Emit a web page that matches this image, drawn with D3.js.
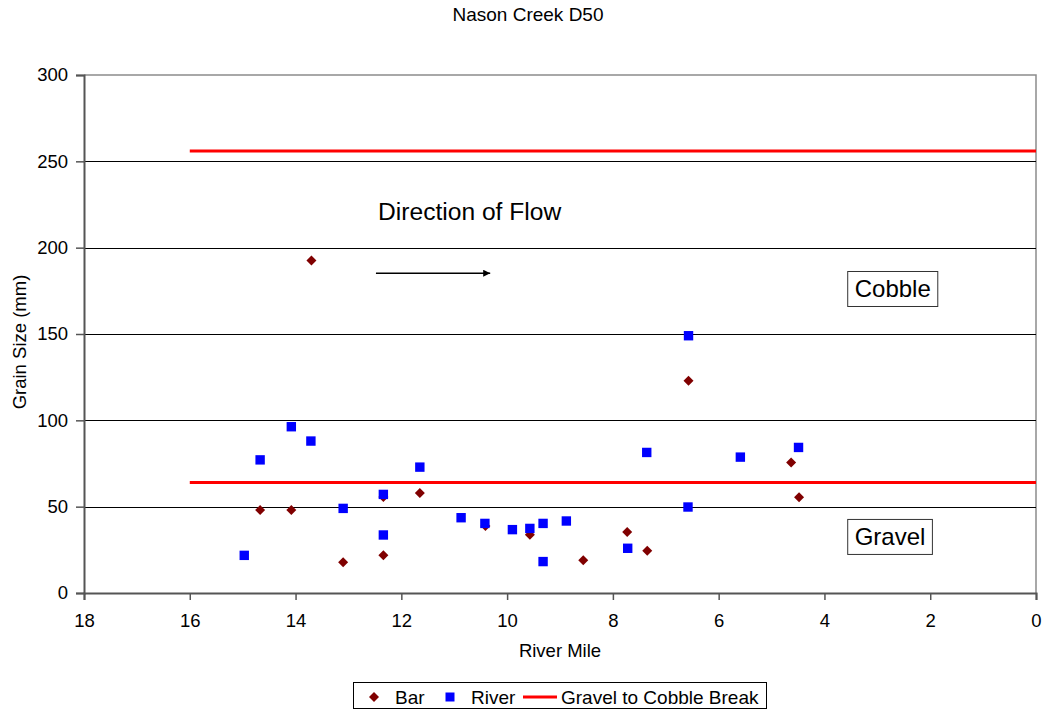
<!DOCTYPE html>
<html>
<head>
<meta charset="utf-8">
<script src="https://cdn.jsdelivr.net/npm/d3@7"></script>
<style>
  html, body { margin: 0; padding: 0; background: #fff; }
  svg { display: block; font-family: "Liberation Sans", Arial, sans-serif; }
</style>
</head>
<body>
<svg id="chart" width="1044" height="711"></svg>
<script>
// Nason Creek D50 grain size by river mile
const barMiles   = [14.67, 14.08, 13.70, 13.10, 12.34, 12.34, 11.65, 10.41, 9.57, 8.56, 7.73, 7.35, 6.57, 4.63, 4.48];
const barValues  = [48, 48, 192.5, 17.8, 21.8, 55.6, 57.9, 38.8, 33.8, 18.9, 35.3, 24.5, 122.9, 75.6, 55.4];

const riverMiles  = [14.97, 14.67, 14.08, 13.71, 13.10, 12.34, 12.34, 11.65, 10.87, 10.42, 9.90, 9.57, 9.32, 9.32, 8.88, 7.72, 7.36, 6.57, 6.58, 5.59, 4.49];
const riverValues = [21.8, 77.1, 96.3, 88.0, 49.0, 57.1, 33.6, 72.9, 43.6, 40.3, 36.7, 37.4, 18.2, 40.3, 41.7, 25.9, 81.4, 149.0, 49.8, 78.7, 84.3];

// gravel/cobble (64 mm) and cobble/boulder (256 mm) breaks
const breakValues = [256, 64];
const breakMiles  = [16, 0];

const xTicks = [18, 16, 14, 12, 10, 8, 6, 4, 2, 0];
const yTicks = [0, 50, 100, 150, 200, 250, 300];
const legendLabels = ["Bar", "River", "Gravel to Cobble Break"];

const svg = d3.select("#chart");
const plot = { left: 84, right: 1036, top: 75, bottom: 593 };

const x = d3.scaleLinear().domain([18, 0]).range([plot.left, plot.right]);
const y = d3.scaleLinear().domain([0, 300]).range([plot.bottom, plot.top]);

// plot frame (top and right) in gray
svg.append("path")
  .attr("d", `M${plot.left},${plot.top}H${plot.right}V${plot.bottom}`)
  .attr("fill", "none").attr("stroke", "#8c8c8c").attr("stroke-width", 1.5);

// horizontal gridlines
svg.append("g").selectAll("line")
  .data(yTicks.filter(v => v > 0 && v < 300))
  .join("line")
  .attr("x1", plot.left).attr("x2", plot.right)
  .attr("y1", d => Math.round(y(d)) + 0.5).attr("y2", d => Math.round(y(d)) + 0.5)
  .attr("stroke", "#000").attr("stroke-width", 1);

// axes
const xAxis = svg.append("g")
  .attr("transform", `translate(0,${plot.bottom})`)
  .call(d3.axisBottom(x).tickValues(xTicks).tickSize(7).tickPadding(14).tickFormat(d3.format("d")));
const yAxis = svg.append("g")
  .attr("transform", `translate(${plot.left},0)`)
  .call(d3.axisLeft(y).tickValues(yTicks).tickSize(8).tickPadding(8).tickFormat(d3.format("d")));

[xAxis, yAxis].forEach(g => {
  g.select(".domain").attr("stroke", "#555").attr("stroke-width", 2);
  g.selectAll(".tick line").attr("stroke", "#555").attr("stroke-width", 1.5);
  g.selectAll(".tick text").attr("fill", "#000").style("font-size", "18.5px")
    .style("font-family", "'Liberation Sans', Arial, sans-serif");
});

// break lines
svg.append("g").selectAll("line")
  .data(breakValues)
  .join("line")
  .attr("x1", x(breakMiles[0])).attr("x2", x(breakMiles[1]))
  .attr("y1", d => y(d)).attr("y2", d => y(d))
  .attr("stroke", "#ff0000").attr("stroke-width", 3);

// Bar samples: dark red diamonds
const diamond = "M0,-5L5,0L0,5L-5,0Z";
svg.append("g").selectAll("path")
  .data(barMiles.map((m, i) => [m, barValues[i]]))
  .join("path")
  .attr("d", diamond)
  .attr("transform", d => `translate(${x(d[0])},${y(d[1])})`)
  .attr("fill", "#800000");

// River samples: blue squares
svg.append("g").selectAll("rect")
  .data(riverMiles.map((m, i) => [m, riverValues[i]]))
  .join("rect")
  .attr("x", d => x(d[0]) - 4.7).attr("y", d => y(d[1]) - 4.7)
  .attr("width", 9.4).attr("height", 9.4)
  .attr("fill", "#0000ff");

// title and axis titles
svg.append("text").attr("x", 528).attr("y", 21).attr("text-anchor", "middle")
  .style("font-size", "19px").text("Nason Creek D50");
svg.append("text").attr("x", 560).attr("y", 657).attr("text-anchor", "middle")
  .style("font-size", "18.5px").text("River Mile");
svg.append("text").attr("transform", `translate(26,${(plot.top + plot.bottom) / 2 + 8}) rotate(-90)`)
  .attr("text-anchor", "middle").style("font-size", "18.5px").text("Grain Size (mm)");

// flow direction annotation
svg.append("text").attr("x", x(12.44)).attr("y", y(216.3))
  .style("font-size", "24.6px").text("Direction of Flow");
svg.append("defs").append("marker")
  .attr("id", "arrowhead").attr("viewBox", "0 0 10 10")
  .attr("refX", 10).attr("refY", 5).attr("markerWidth", 10).attr("markerHeight", 7)
  .attr("markerUnits", "userSpaceOnUse").attr("orient", "auto")
  .append("path").attr("d", "M0,0L10,5L0,10Z").attr("fill", "#000");
svg.append("line")
  .attr("x1", x(12.48)).attr("x2", x(10.32))
  .attr("y1", y(185.2)).attr("y2", y(185.2))
  .attr("stroke", "#000").attr("stroke-width", 1.5)
  .attr("marker-end", "url(#arrowhead)");

// size class labels in boxes
function boxedLabel(label, mile, top) {
  const g = svg.append("g");
  const t = g.append("text").attr("x", x(mile) + 7).attr("y", y(top) + 26)
    .style("font-size", "24px").text(label);
  const bb = t.node().getBBox();
  g.insert("rect", "text")
    .attr("x", x(mile)).attr("y", y(top))
    .attr("width", bb.width + 14).attr("height", 35)
    .attr("fill", "#fff").attr("stroke", "#333").attr("stroke-width", 1);
}
boxedLabel("Cobble", 3.56, 186.2);
boxedLabel("Gravel", 3.56, 42.6);

// legend
const legend = svg.append("g");
legend.append("rect").attr("x", 353.5).attr("y", 682.5).attr("width", 413).attr("height", 26)
  .attr("fill", "#fff").attr("stroke", "#000").attr("stroke-width", 1);
const ly = 697;
legend.append("path").attr("d", diamond).attr("transform", `translate(374,${ly})`).attr("fill", "#800000");
legend.append("text").attr("x", 395).attr("y", ly + 7).style("font-size", "19px").text(legendLabels[0]);
legend.append("rect").attr("x", 445.5).attr("y", ly - 4.5).attr("width", 9).attr("height", 9).attr("fill", "#0000ff");
legend.append("text").attr("x", 471).attr("y", ly + 7).style("font-size", "19px").text(legendLabels[1]);
legend.append("line").attr("x1", 523).attr("x2", 557).attr("y1", ly).attr("y2", ly)
  .attr("stroke", "#ff0000").attr("stroke-width", 3);
legend.append("text").attr("x", 561).attr("y", ly + 7).style("font-size", "19px").text(legendLabels[2]);
</script>
</body>
</html>
